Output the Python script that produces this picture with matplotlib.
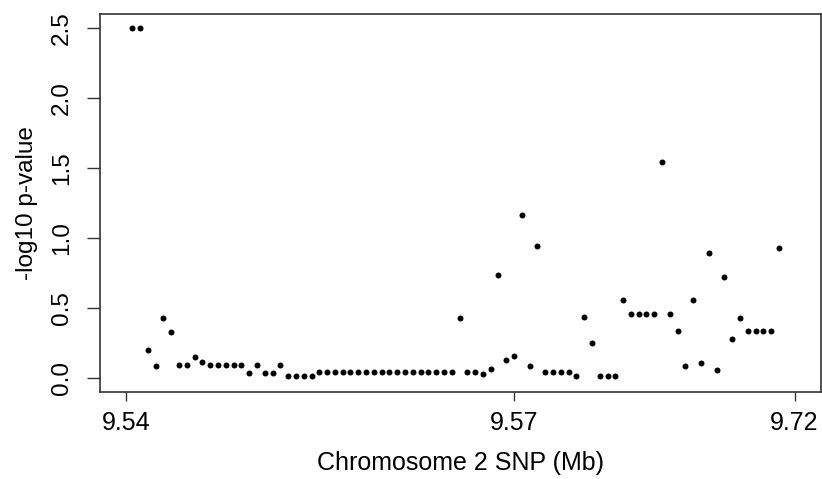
import numpy as np
import matplotlib
matplotlib.use('Agg')
import matplotlib.pyplot as plt

# -log10 p-values for each SNP, in chromosome order
pvals = [2.50, 2.50, 0.20, 0.085, 0.43, 0.33, 0.095, 0.095, 0.147, 0.117,
         0.095, 0.095, 0.095, 0.095, 0.095, 0.036, 0.095, 0.036, 0.036, 0.095,
         0.014, 0.014, 0.014, 0.014, 0.045, 0.045, 0.045, 0.045, 0.045, 0.045,
         0.045, 0.045, 0.045, 0.045, 0.045, 0.045, 0.045, 0.045, 0.045, 0.045,
         0.045, 0.045, 0.43, 0.045, 0.045, 0.031, 0.066, 0.737, 0.126, 0.154,
         1.162, 0.085, 0.94, 0.045, 0.045, 0.045, 0.045, 0.014, 0.439, 0.247,
         0.014, 0.014, 0.014, 0.56, 0.458, 0.458, 0.458, 0.458, 1.546, 0.458,
         0.337, 0.085, 0.56, 0.107, 0.892, 0.055, 0.721, 0.277, 0.427, 0.337,
         0.337, 0.337, 0.337, 0.932]
snp_index = np.arange(1, len(pvals) + 1)

tick_pos = [0.15, 50, 86]
tick_labels = ['9.54', '9.57', '9.72']

plt.rcParams['font.family'] = ['Liberation Sans', 'DejaVu Sans']

fig = plt.figure(figsize=(8.22, 4.79), dpi=100)
ax = fig.add_axes([100/822, 1-392/479, 721/822, 378/479])

ax.plot(snp_index, pvals, 'o', color='black', markersize=4.3, markeredgewidth=0)

ax.set_xlim(-3.15, 89.4)
ax.set_ylim(-0.1, 2.6)
ax.set_xticks(tick_pos)
ax.set_xticklabels(tick_labels)
ax.set_yticks([0.0, 0.5, 1.0, 1.5, 2.0, 2.5])
ax.set_yticklabels(['0.0', '0.5', '1.0', '1.5', '2.0', '2.5'], rotation=90, va='center')

for sp in ax.spines.values():
	sp.set_color('#333333')
	sp.set_linewidth(1.2)
ax.tick_params(direction='out', width=1.0, color='#333333', labelsize=17.5)
ax.tick_params(axis='x', length=6.5, pad=7, labelsize=18)
ax.tick_params(axis='y', length=9.4, pad=10)

ax.set_xlabel('Chromosome 2 SNP (Mb)', fontsize=18, labelpad=12)
ax.set_ylabel('-log10 p-value', fontsize=17.5, labelpad=9.5)

fig.savefig('out.png', dpi=100)
